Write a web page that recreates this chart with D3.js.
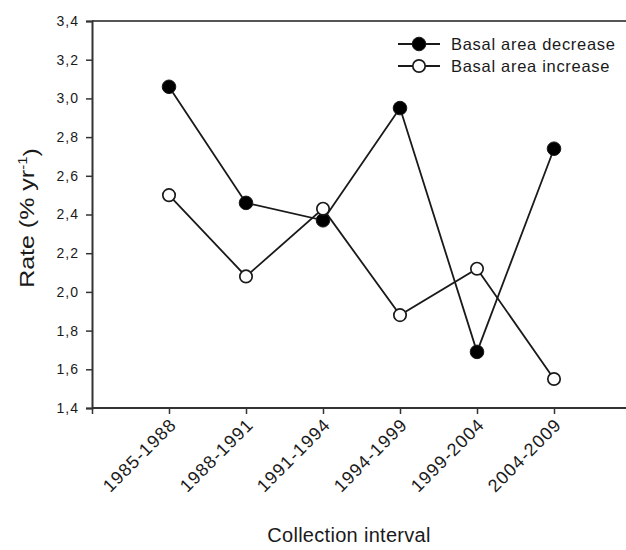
<!DOCTYPE html>
<html>
<head>
<meta charset="utf-8">
<script src="https://cdn.jsdelivr.net/npm/d3@7"></script>
<style>
  html, body { margin: 0; padding: 0; background: #fff; }
  svg { display: block; font-family: Arial, "Liberation Sans", sans-serif; }
</style>
</head>
<body>
<svg id="chart" width="626" height="550"></svg>
<script>
// Collection intervals (x categories)
const intervals = ["1985-1988", "1988-1991", "1991-1994", "1994-1999", "1999-2004", "2004-2009"];
// Annual rates, % per year
const decreaseRates = [3.06, 2.46, 2.37, 2.95, 1.69, 2.74];
const increaseRates = [2.50, 2.08, 2.43, 1.88, 2.12, 1.55];
// Y axis ticks
const yTicks = [1.4, 1.6, 1.8, 2.0, 2.2, 2.4, 2.6, 2.8, 3.0, 3.2, 3.4];
const seriesNames = ["Basal area decrease", "Basal area increase"];

const svg = d3.select("#chart");
const ink = "#1a1a1a";

// Interval k sits at position k+1; the axis origin is position 0
const x = d3.scaleLinear().domain([0, 7]).range([92, 631]);
const y = d3.scaleLinear().domain([1.4, 3.4]).range([408, 21]);

// Top frame line
svg.append("line")
  .attr("x1", 92).attr("x2", 626)
  .attr("y1", y(3.4)).attr("y2", y(3.4))
  .attr("stroke", "#555").attr("stroke-width", 2);

// Y axis
const yAxis = svg.append("g")
  .attr("transform", `translate(${x(0)},0)`)
  .call(d3.axisLeft(y).tickValues(yTicks).tickSize(6).tickPadding(7)
        .tickFormat(d => d3.format(".1f")(d).replace(".", ",")));
yAxis.select(".domain").attr("stroke", "#333").attr("stroke-width", 2);
yAxis.selectAll(".tick line").attr("stroke", "#333").attr("stroke-width", 1.5);
yAxis.selectAll(".tick text").attr("fill", ink)
  .style("font-size", "14px").style("letter-spacing", "1px");

// X axis
const xAxis = svg.append("g")
  .attr("transform", `translate(0,${y(1.4)})`)
  .call(d3.axisBottom(x).tickValues([0, 1, 2, 3, 4, 5, 6]).tickSize(6)
        .tickFormat(d => d === 0 ? "" : intervals[d - 1]));
xAxis.select(".domain").attr("d", `M${x(0)},0H626`).attr("stroke", "#333").attr("stroke-width", 2);
xAxis.selectAll(".tick line").attr("stroke", "#333").attr("stroke-width", 1.5);
xAxis.selectAll(".tick text")
  .attr("fill", ink)
  .style("font-size", "18px")
  .style("letter-spacing", "1px")
  .attr("text-anchor", "end")
  .attr("dy", null)
  .attr("y", 0)
  .attr("transform", "translate(8,18) rotate(-45)");

// Series lines and markers
const line = d3.line().x((d, i) => x(i + 1)).y(d => y(d));

svg.append("path").datum(decreaseRates)
  .attr("d", line).attr("fill", "none").attr("stroke", ink).attr("stroke-width", 1.8);
svg.append("path").datum(increaseRates)
  .attr("d", line).attr("fill", "none").attr("stroke", ink).attr("stroke-width", 1.8);

svg.append("g").selectAll("circle").data(decreaseRates).join("circle")
  .attr("cx", (d, i) => x(i + 1)).attr("cy", d => y(d))
  .attr("r", 6.8).attr("fill", "#000").attr("stroke", ink).attr("stroke-width", 1);

svg.append("g").selectAll("circle").data(increaseRates).join("circle")
  .attr("cx", (d, i) => x(i + 1)).attr("cy", d => y(d))
  .attr("r", 6.2).attr("fill", "#fff").attr("stroke", ink).attr("stroke-width", 1.7);

// Legend
const legend = svg.append("g").attr("transform", "translate(398,44)");
seriesNames.forEach((name, i) => {
  const row = legend.append("g").attr("transform", `translate(0,${i * 22})`);
  row.append("line").attr("x1", 0).attr("x2", 42).attr("y1", 0).attr("y2", 0)
    .attr("stroke", ink).attr("stroke-width", 1.8);
  row.append("circle").attr("cx", 21).attr("cy", 0).attr("r", i === 0 ? 6.8 : 6.2)
    .attr("fill", i === 0 ? "#000" : "#fff").attr("stroke", ink).attr("stroke-width", i === 0 ? 1 : 1.7);
  row.append("text").attr("x", 53).attr("y", 0).attr("dy", "0.35em")
    .attr("fill", ink).style("font-size", "16.5px").style("letter-spacing", "0.7px").text(name);
});

// Axis titles
svg.append("text")
  .attr("x", 349).attr("y", 542)
  .attr("text-anchor", "middle").attr("fill", ink)
  .style("font-size", "20px").style("letter-spacing", "0.3px")
  .text("Collection interval");

// Y title, widened along its baseline
const yTitle = svg.append("text")
  .attr("transform", "translate(34,218) rotate(-90) scale(1.25,1)")
  .attr("text-anchor", "middle").attr("fill", ink)
  .style("font-size", "20px");
yTitle.append("tspan").text("Rate (% yr");
yTitle.append("tspan").attr("dy", "-0.55em").style("font-size", "12px").text("-1");
yTitle.append("tspan").attr("dy", "0.55em").text(")");
</script>
</body>
</html>
